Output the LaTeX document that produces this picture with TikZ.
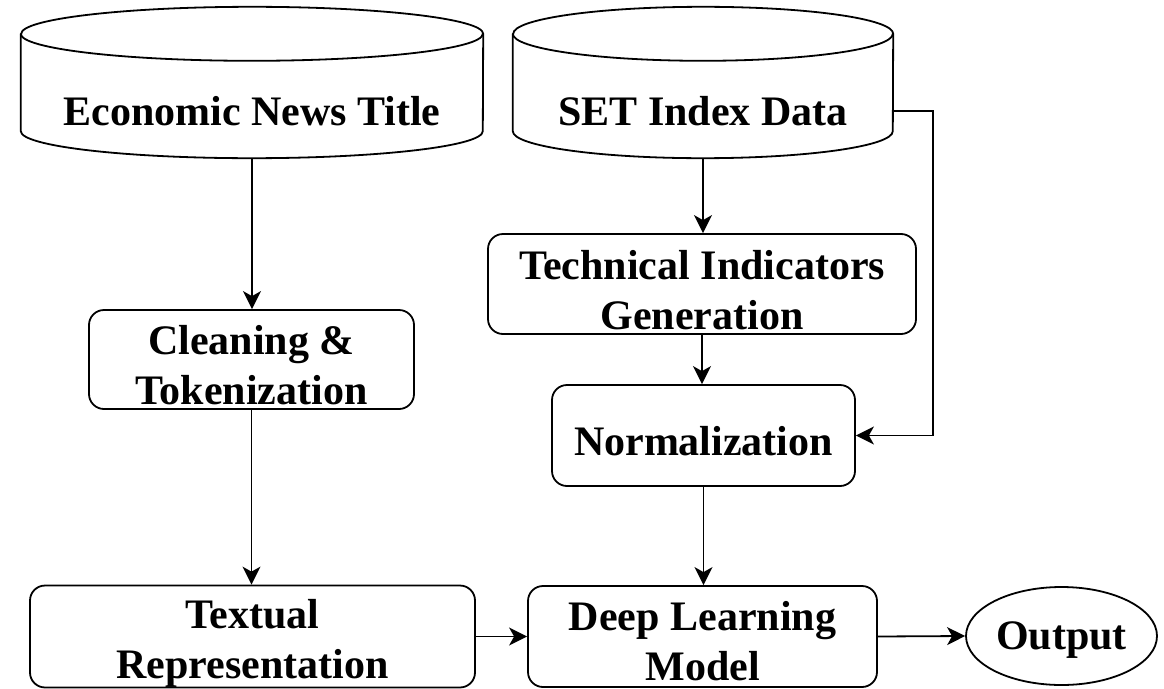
\documentclass[tikz,border=0pt]{standalone}
\usepackage{fontspec}
\setmainfont{Liberation Serif}
\usetikzlibrary{arrows.meta,calc,shapes.geometric}

% Cylinder outline for a data store, drawn round an invisible node
% #1 node name, #2 x radius of the end ellipses, #3 y radius
\newcommand\drawstore[3]{%
  \draw[stroke, fill=white]
    ($(#1.north west)+(0,-#3)$) -- ($(#1.south west)+(0,#3)$)
    arc[start angle=180,end angle=360,x radius=#2,y radius=#3]
    -- ($(#1.north east)+(0,-#3)$)
    arc[start angle=0,end angle=180,x radius=#2,y radius=#3] -- cycle;
  \draw[stroke] ($(#1.north west)+(0,-#3)$)
    arc[start angle=180,end angle=360,x radius=#2,y radius=#3];
}
% tall strut on the first line sets the text a little below the box centre
\newcommand\lowtext[1]{\rule{0pt}{#1}}

\tikzset{
  x=1pt, y=1pt,
  every node/.style={font=\fontsize{42}{50}\selectfont\bfseries,
                     align=center, inner sep=0pt},
  stroke/.style={line width=1.8pt, line join=round},
  proc/.style={stroke, draw, rounded corners=15pt, fill=white},
  store/.style={draw=none},
  outnode/.style={stroke, draw, ellipse, fill=white},
  arr/.style={line width=1.8pt,
              -{Stealth[length=18pt,width=18pt,inset=5pt]}},
}

\begin{document}
\begin{tikzpicture}
\useasboundingbox (0,0) rectangle (1164,-688);

% data sources
\node[store, minimum width=462pt, minimum height=151pt] (news) at (252,-82.5) {};
\node[store, minimum width=380pt, minimum height=151pt] (set)  at (703,-82.5) {};
\drawstore{news}{231}{27}
\drawstore{set}{190}{27}
\node (newslbl) at (252,-111) {Economic News Title};
\node (setlbl)  at (703,-111) {SET Index Data};

% processing steps
\node[proc, minimum width=325pt, minimum height=99pt]  (clean) at (251.5,-359.5) {\lowtext{40pt}Cleaning \&\\Tokenization};
\node[proc, minimum width=428pt, minimum height=100pt] (tech)  at (702,-284) {\lowtext{42pt}Technical Indicators\\Generation};
\node[proc, minimum width=303pt, minimum height=101pt] (norm)  at (703.5,-435.5) {\lowtext{40pt}Normalization};
\node[proc, minimum width=445pt, minimum height=101pt] (textrep) at (252.5,-636.5) {\lowtext{43pt}Textual\\Representation};
\node[proc, minimum width=349pt, minimum height=101pt] (dl)    at (702.5,-636.5) {\lowtext{38pt}Deep Learning\\Model};
\node[outnode, minimum width=191pt, minimum height=98pt] (out) at (1061.5,-636) {\lowtext{36pt}Output};

% connectors
\draw[arr] (news.south) -- (news.south |- clean.north);
\draw[arr] (clean.south) -- (clean.south |- textrep.north);
\draw[arr] (set.south) -- (set.south |- tech.north);
\draw[arr] (tech.south) -- (tech.south |- norm.north);
\draw[arr] (set.east |- setlbl.center) -- ++(40,0) |- (norm.east);
\draw[arr] (norm.south) -- (norm.south |- dl.north);
\draw[arr] (textrep.east) -- (dl.west);
\draw[arr] (dl.east) -- (out.west);
\end{tikzpicture}
\end{document}
